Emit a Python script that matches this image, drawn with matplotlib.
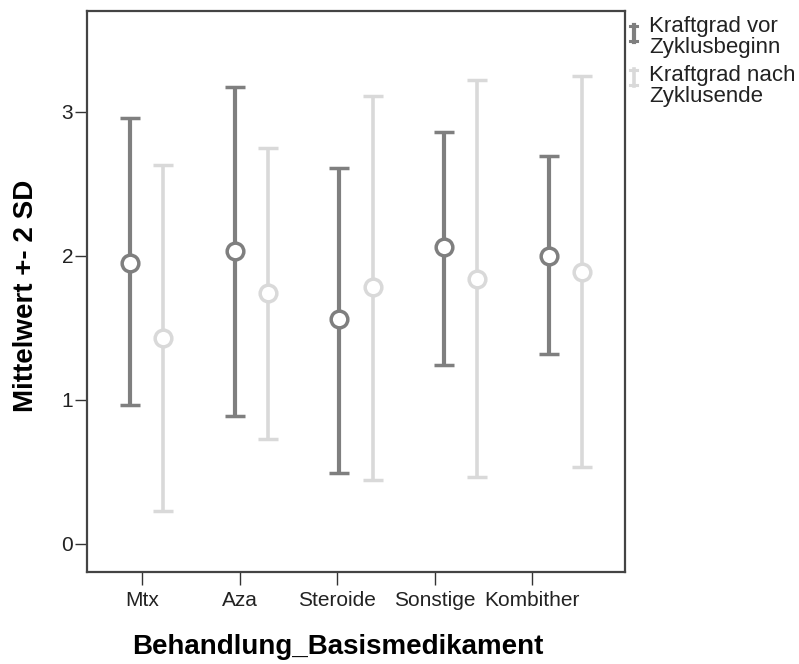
import numpy as np
import matplotlib
matplotlib.use("Agg")
import matplotlib.pyplot as plt
from matplotlib.lines import Line2D

# Data (mean and mean +- 2 SD)
categories = ["Mtx", "Aza", "Steroide", "Sonstige", "Kombither"]

vor_mean = [1.95, 2.03, 1.56, 2.06, 2.00]
vor_low = [0.96, 0.89, 0.49, 1.24, 1.32]
vor_high = [2.96, 3.17, 2.61, 2.86, 2.69]

nach_mean = [1.43, 1.74, 1.78, 1.84, 1.89]
nach_low = [0.23, 0.73, 0.44, 0.46, 0.53]
nach_high = [2.63, 2.75, 3.11, 3.22, 3.25]

series_names = ["Kraftgrad vor\nZyklusbeginn", "Kraftgrad nach\nZyklusende"]

dark = "#7f7f7f"
light = "#d9d9d9"

plt.rcParams["font.family"] = ["Liberation Sans", "DejaVu Sans"]

fig = plt.figure(figsize=(7.99, 6.64), dpi=100)
ax = fig.add_axes([87 / 799, 1 - 572 / 664, 538 / 799, 561 / 664])

pos = np.arange(len(categories))
off = 0.158


def draw(x, mean, low, high, color, lw):
    mean = np.array(mean)
    err = [mean - np.array(low), np.array(high) - mean]
    ax.errorbar(x, mean, yerr=err, fmt="o", color=color, ecolor=color,
                elinewidth=lw, capsize=7.5, capthick=lw + 0.6,
                markersize=12, markeredgewidth=2.5,
                markerfacecolor="white", markeredgecolor=color, zorder=3)


draw(pos - off, vor_mean, vor_low, vor_high, dark, 3.0)
draw(pos + off, nach_mean, nach_low, nach_high, light, 2.6)

ax.set_xlim(-0.568, 4.568)
ax.set_ylim(-0.197, 3.70)

# SPSS puts the category ticks slightly compressed compared to the clusters
tick_pos = pos * 0.931 - 0.043
ax.set_xticks(tick_pos)
ax.set_xticklabels(categories)
ax.set_yticks([0, 1, 2, 3])

ax.tick_params(axis="both", length=9, width=1, color="#333333",
               labelsize=15, labelcolor="#222222")
ax.tick_params(axis="x", pad=5)
ax.tick_params(axis="y", pad=1)

for s in ax.spines.values():
    s.set_color("#444444")
    s.set_linewidth(1.6)

ax.set_xlabel("Behandlung_Basismedikament", fontsize=20, fontweight="bold",
              va="center")
ax.xaxis.set_label_coords(0.4656, -0.1337)
ax.set_ylabel("Mittelwert +- 2 SD", fontsize=20, fontweight="bold",
              va="center")
ax.yaxis.set_label_coords(-0.1134, 0.492)

# legend drawn by hand, SPSS style
def px(x, y):
    return x / 799, 1 - y / 664


for i, (name, color, lw) in enumerate(zip(series_names, [dark, light], [3.0, 2.6])):
    top = 25 + i * 44
    bot = top + 17
    xc = 633.5
    fig.add_artist(Line2D(*zip(px(xc, top), px(xc, bot)), color=color, lw=lw))
    fig.add_artist(Line2D(*zip(px(xc - 3.5, top + 1), px(xc + 3.5, top + 1)), color=color, lw=2.2))
    fig.add_artist(Line2D(*zip(px(xc - 3.5, bot - 1), px(xc + 3.5, bot - 1)), color=color, lw=2.2))
    fig.text(*px(649, 16 + i * 49), name, fontsize=16, va="top", ha="left",
             linespacing=0.97, color="#222222")

fig.savefig("out.png", dpi=100)
